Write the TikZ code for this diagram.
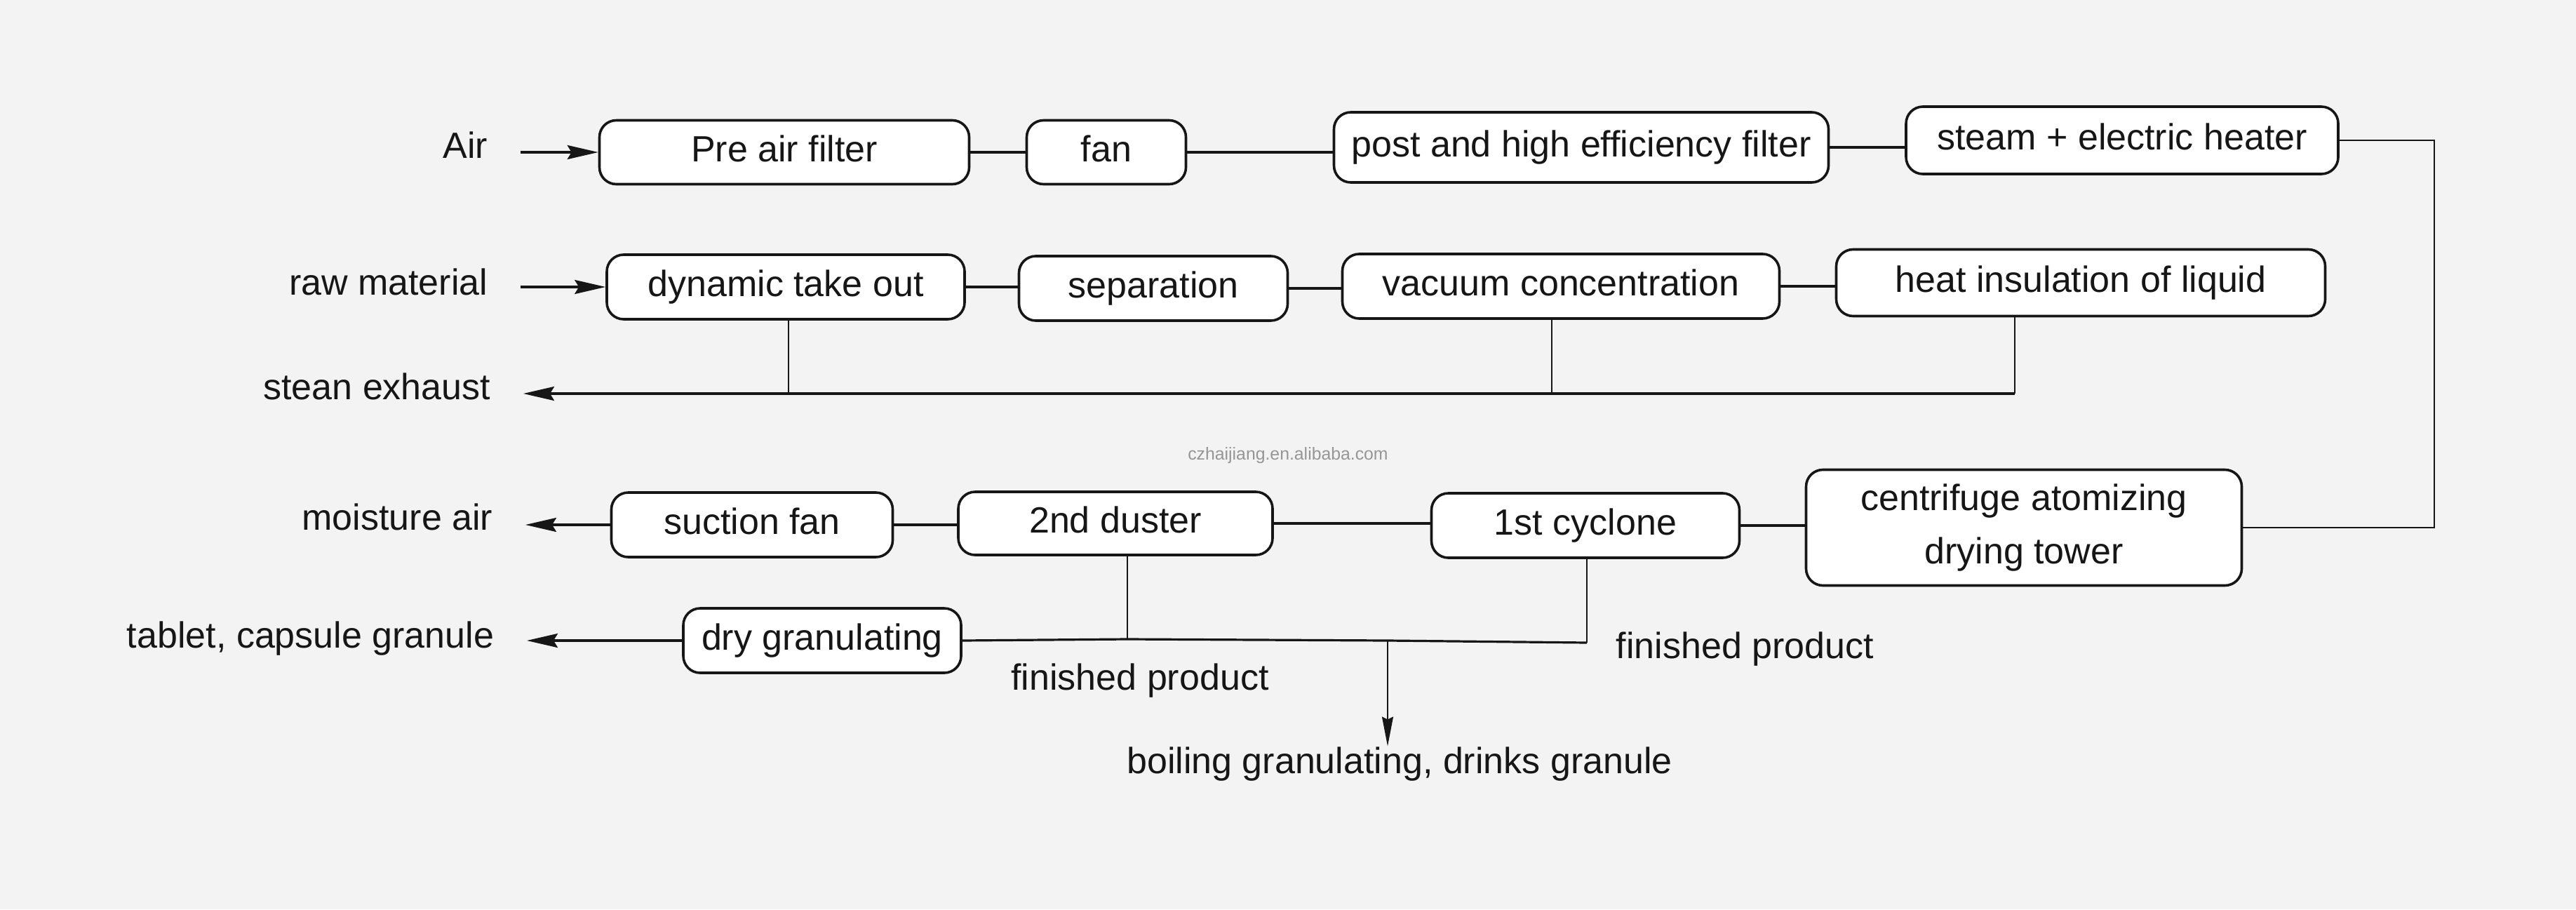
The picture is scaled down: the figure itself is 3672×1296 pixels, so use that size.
\documentclass[tikz,border=0pt]{standalone}
\usepackage{fontspec}
\setmainfont{Liberation Sans}
\usetikzlibrary{arrows.meta}
\definecolor{paper}{RGB}{243,243,244}
\definecolor{ink}{RGB}{22,22,22}
\definecolor{wm}{RGB}{150,150,150}
\begin{document}
\begin{tikzpicture}[x=0.25pt,y=-0.25pt,
  mainfont/.style={font=\fontsize{13pt}{19pt}\selectfont},
  boxbase/.style={mainfont, draw=ink, line width=0.9pt, fill=white, rounded corners=6pt,
    minimum height=23pt, inner sep=0pt, text=ink},
  box/.style={boxbase, text height=9.2pt, text depth=2.6pt},
  lbl/.style={mainfont, inner xsep=11.5pt, inner ysep=0pt, text height=9pt, text depth=0pt,
    anchor=east, text=ink},
  txt/.style={mainfont, inner sep=0pt, text=ink},
  conn/.style={draw=ink, line width=0.8pt},
  thinline/.style={draw=ink, line width=0.5pt},
  arr/.style={-{Stealth[length=11pt,width=5pt,inset=1.5pt]}},
  arrdown/.style={-{Stealth[length=10.5pt,width=4pt,inset=1pt]}}
]
\useasboundingbox (0,0) rectangle (3672,1296);
\fill[paper] (0,0) rectangle (3672,1296);

% row 1
\node[box, minimum width=131.75pt, minimum height=22.75pt] (pre) at (1118,217) {Pre air filter};
\node[box, minimum width=56.75pt, minimum height=22.75pt] (fan) at (1577,217) {fan};
\node[box, minimum width=176.25pt, minimum height=25pt] (post) at (2254,210) {post and high efficiency filter};
\node[box, minimum width=154pt, minimum height=24pt] (heater) at (3025,200) {steam + electric heater};

% row 2
\node[box, minimum width=127.5pt] (dyn) at (1120,409) {dynamic take out};
\node[box, minimum width=95.75pt] (sep) at (1644,411) {separation};
\node[box, minimum width=155.75pt] (vac) at (2225,408) {vacuum concentration};
\node[box, minimum width=174.25pt, minimum height=23.75pt] (heat) at (2966,403) {heat insulation of liquid};

% row 3
\node[box, minimum width=100.25pt] (suction) at (1072,748) {suction fan};
\node[box, minimum width=112pt, minimum height=22.5pt] (duster) at (1590,746) {2nd duster};
\node[box, minimum width=109.75pt] (cyclone) at (2260,749) {1st cyclone};
\node[boxbase, minimum width=155.25pt, minimum height=41.25pt, align=center] (tower) at (2885,752) {centrifuge atomizing\\drying tower};

% row 4
\node[box, minimum width=99pt] (dry) at (1172,913) {dry granulating};

% side labels
\node[lbl] (air) at (742,207) {Air};
\node[lbl] (raw) at (742,402) {raw material};
\node[lbl] (exh) at (746,551) {stean exhaust};
\node[lbl] (moist) at (749,737) {moisture air};
\node[lbl] (tab) at (751,905) {tablet, capsule granule};

\node[txt, anchor=base] (fp1) at (1625,983) {finished product};
\node[txt, anchor=base west] (fp2) at (2303,938) {finished product};
\node[txt, anchor=base] (boil) at (1995,1102) {boiling granulating, drinks granule};
\node[font=\fontsize{6.2pt}{7pt}\selectfont, text=wm, anchor=base, inner sep=0pt] (wmk) at (1836,655) {czhaijiang.en.alibaba.com};

% coordinates
\coordinate (loop) at (3470,0);
\coordinate (ed) at (1124,561);
\coordinate (ev) at (2212,561);
\coordinate (ex) at (2872,561);
\coordinate (j1) at (1607,911);
\coordinate (j3) at (1978,913);
\coordinate (j2) at (2262,916);

% row 1 connectors
\draw[conn, arr] (air.east |- pre.west) -- (pre.west);
\draw[conn] (pre.east) -- (pre.east -| fan.west);
\draw[conn] (fan.east) -- (fan.east -| post.west);
\draw[conn] (post.east) -- (post.east -| heater.west);
\draw[thinline] (heater.east) -- (loop |- heater.east) -- (loop |- tower.east) -- (tower.east);

% row 2 connectors
\draw[conn, arr] (raw.east |- dyn.west) -- (dyn.west);
\draw[conn] (dyn.east) -- (dyn.east -| sep.west);
\draw[conn] (sep.east) -- (sep.east -| vac.west);
\draw[conn] (vac.east) -- (vac.east -| heat.west);
\draw[thinline] (dyn.south -| ed) -- (ed);
\draw[thinline] (vac.south -| ev) -- (ev);
\draw[thinline] (heat.south -| ex) -- (ex);
\draw[conn, arr] (ex) -- (ex -| exh.east);

% row 3 connectors
\draw[conn, arr] (suction.west) -- (suction.west -| moist.east);
\draw[conn] (suction.east) -- (suction.east -| duster.west);
\draw[conn] (duster.east) -- (duster.east -| cyclone.west);
\draw[conn] (cyclone.east) -- (cyclone.east -| tower.west);

% row 4 connectors
\draw[conn, arr] (dry.west) -- (dry.west -| tab.east);
\draw[conn] (dry.east) -- (j1) -- (j3) -- (j2);
\draw[thinline] (duster.south -| j1) -- (j1);
\draw[thinline] (cyclone.south -| j2) -- (j2);
\draw[thinline, arrdown] (j3) -- (j3 |- boil.north);
\end{tikzpicture}
\end{document}
